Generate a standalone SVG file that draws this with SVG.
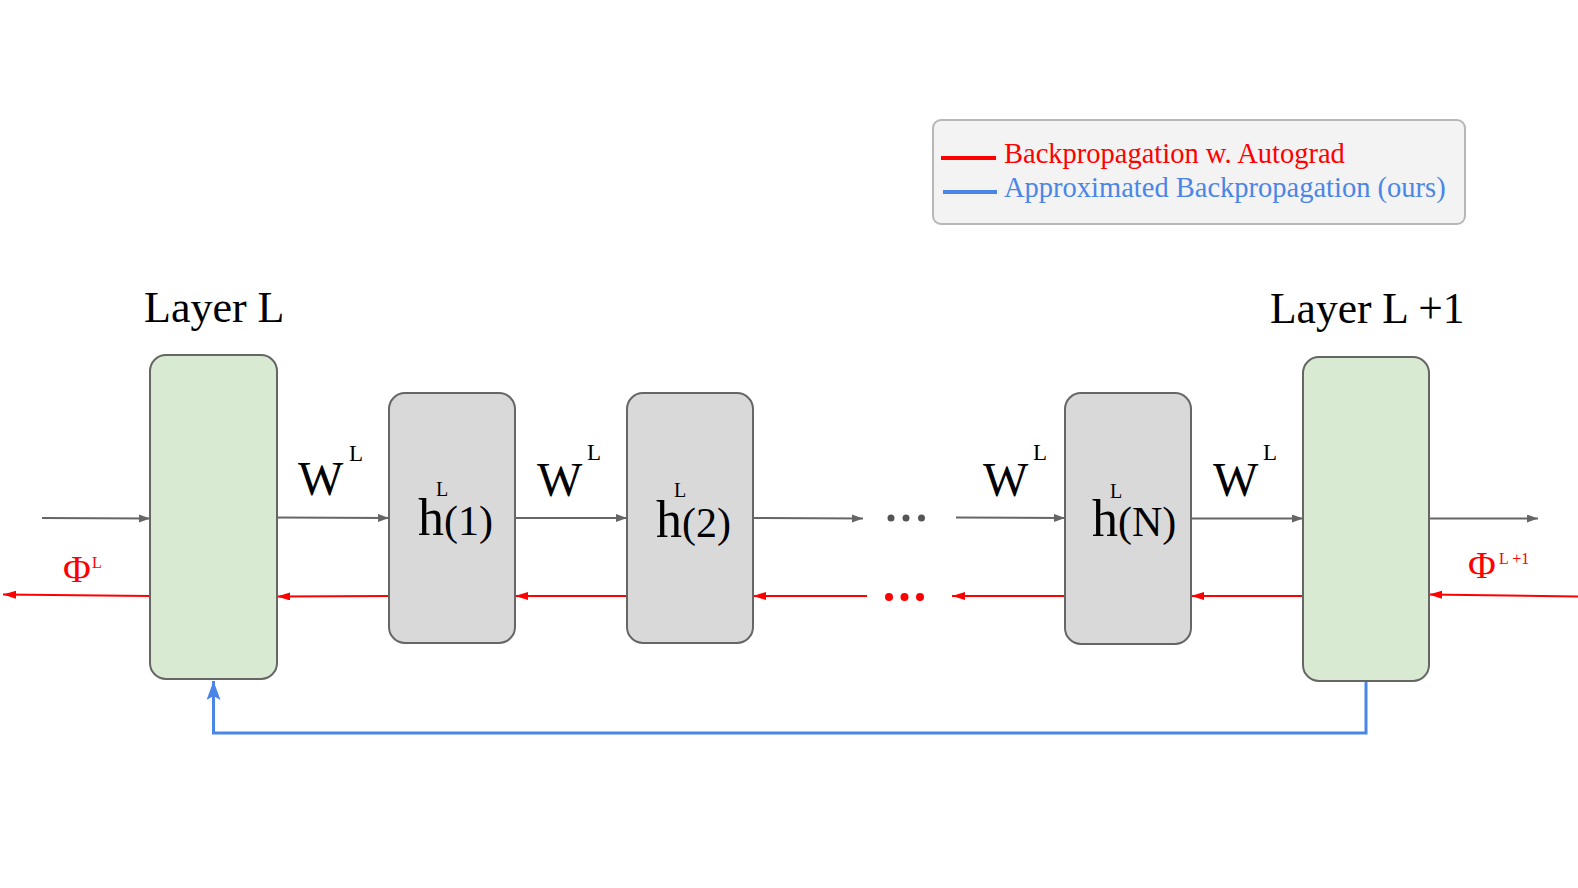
<svg xmlns="http://www.w3.org/2000/svg" width="1578" height="888" viewBox="0 0 1578 888">
<style>
.t{font-family:"Liberation Serif","Times New Roman",serif;}
.green{fill:#d9ead3;stroke:#666;stroke-width:2;}
.grey{fill:#d9d9d9;stroke:#666;stroke-width:2;}
.fw{stroke:#666;stroke-width:2;fill:none;marker-end:url(#ag);}
.bw{stroke:#f00;stroke-width:2;fill:none;marker-end:url(#ar);}
.W{font-size:48px;fill:#000;}
.sup{font-size:23px;fill:#000;}
</style>
<defs>
<marker id="ag" markerUnits="userSpaceOnUse" markerWidth="12" markerHeight="10" refX="11" refY="4" orient="auto"><path d="M0,0 L11,4 L0,8 Z" fill="#666"/></marker>
<marker id="ar" markerUnits="userSpaceOnUse" markerWidth="14" markerHeight="10" refX="13" refY="4" orient="auto"><path d="M0,0 L13,4 L0,8 Z" fill="#f00"/></marker>
<marker id="ab" markerUnits="userSpaceOnUse" markerWidth="20" markerHeight="16" refX="19" refY="7" orient="auto"><path d="M0,0 L19,7 L0,14 L4,7 Z" fill="#4a86e8"/></marker>
</defs>
<rect width="1578" height="888" fill="#fff"/>

<g id="legend">
<rect x="933" y="120" width="532" height="104" rx="8" fill="#f3f3f3" stroke="#b7b7b7" stroke-width="2"/>
<line x1="941" y1="158" x2="996" y2="158" stroke="#f00" stroke-width="4"/>
<line x1="943" y1="192" x2="997" y2="192" stroke="#4a86e8" stroke-width="4"/>
<text class="t" x="1004" y="163" font-size="28.5" fill="#f00">Backpropagation w. Autograd</text>
<text class="t" x="1004" y="197" font-size="28.5" fill="#4a86e8">Approximated Backpropagation (ours)</text>
</g>

<g id="connectors">
<line class="fw" x1="42" y1="518" x2="150" y2="518.5"/>
<line class="fw" x1="277" y1="517.5" x2="389" y2="518"/>
<line class="fw" x1="516" y1="518" x2="627" y2="518"/>
<line class="fw" x1="753" y1="518" x2="863" y2="518.5"/>
<line class="fw" x1="956" y1="517.5" x2="1065" y2="518"/>
<line class="fw" x1="1191" y1="518.5" x2="1303" y2="518.5"/>
<line class="fw" x1="1429" y1="518.5" x2="1538" y2="518.5"/>

<line class="bw" x1="150" y1="596" x2="3" y2="594.5"/>
<line class="bw" x1="389" y1="596" x2="277" y2="596.5"/>
<line class="bw" x1="627" y1="596" x2="515" y2="596"/>
<line class="bw" x1="867" y1="596" x2="753" y2="596"/>
<line class="bw" x1="1065" y1="596" x2="952" y2="596"/>
<line class="bw" x1="1303" y1="596" x2="1191" y2="596"/>
<line class="bw" x1="1578" y1="596.5" x2="1429" y2="594.5"/>

<path d="M1366,681 V733 H213.5 V681" stroke="#4a86e8" stroke-width="3" fill="none" marker-end="url(#ab)"/>

<g fill="#555">
<circle cx="891" cy="518" r="3.5"/><circle cx="906" cy="518" r="3.5"/><circle cx="921.5" cy="518" r="3.5"/>
</g>
<g fill="#f00">
<circle cx="889" cy="597" r="4"/><circle cx="904.5" cy="597" r="4"/><circle cx="920" cy="597" r="4"/>
</g>

<text class="t W" x="298" y="495">W</text><text class="t sup" x="349" y="461">L</text>
<text class="t W" x="537" y="496">W</text><text class="t sup" x="587" y="460">L</text>
<text class="t W" x="983" y="496">W</text><text class="t sup" x="1033" y="460">L</text>
<text class="t W" x="1213" y="496">W</text><text class="t sup" x="1263" y="460">L</text>

<text class="t" x="63" y="582" font-size="38" fill="#f00">Φ</text>
<text class="t" x="92" y="568" font-size="16" fill="#f00">L</text>
<text class="t" x="1468" y="578" font-size="38" fill="#f00">Φ</text>
<text class="t" x="1499" y="564" font-size="16" fill="#f00">L +1</text>
</g>

<g id="layerL">
<rect class="green" x="150" y="355" width="127" height="324" rx="16"/>
<text class="t" x="144" y="322" font-size="44" fill="#000">Layer L</text>
</g>

<g id="h1">
<rect class="grey" x="389" y="393" width="126" height="250" rx="16"/>
<text class="t" x="418" y="535" fill="#000"><tspan font-size="52">h</tspan><tspan font-size="42">(1)</tspan></text>
<text class="t" x="436" y="496" font-size="20" fill="#000">L</text>
</g>

<g id="h2">
<rect class="grey" x="627" y="393" width="126" height="250" rx="16"/>
<text class="t" x="656" y="537" fill="#000"><tspan font-size="52">h</tspan><tspan font-size="42">(2)</tspan></text>
<text class="t" x="674" y="497" font-size="20" fill="#000">L</text>
</g>

<g id="hN">
<rect class="grey" x="1065" y="393" width="126" height="251" rx="16"/>
<text class="t" x="1092" y="536" fill="#000"><tspan font-size="52">h</tspan><tspan font-size="42">(N)</tspan></text>
<text class="t" x="1110" y="498" font-size="20" fill="#000">L</text>
</g>

<g id="layerL1">
<rect class="green" x="1303" y="357" width="126" height="324" rx="16"/>
<text class="t" x="1270" y="323" font-size="43.5" fill="#000">Layer L +1</text>
</g>
</svg>
